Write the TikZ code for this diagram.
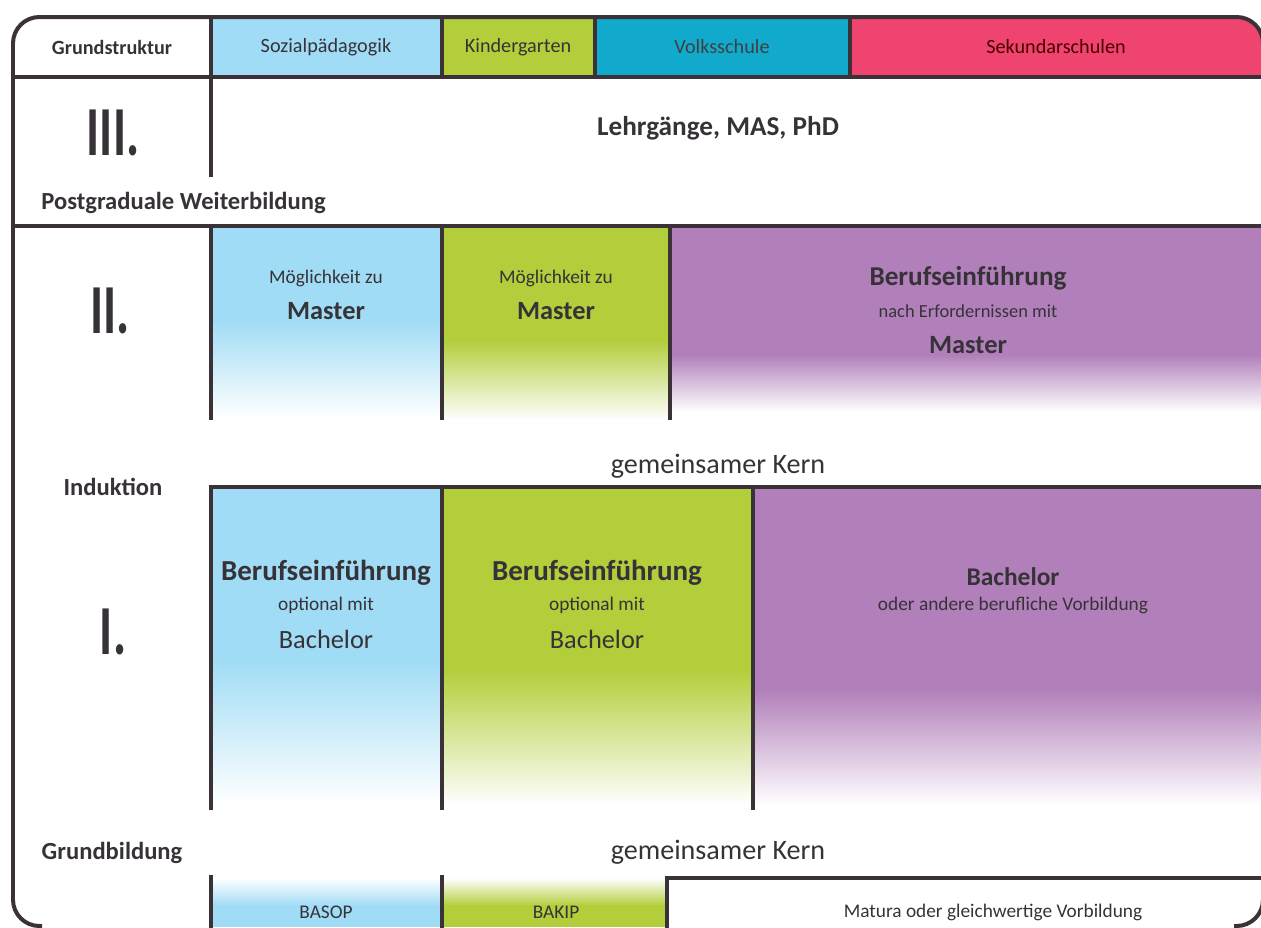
\documentclass[tikz,border=0pt]{standalone}
\usepackage{fontspec}
\setmainfont{Carlito}
\usepackage{graphicx}

\definecolor{sozblue}{RGB}{160,220,245}
\definecolor{kigreen}{RGB}{178,206,59}
\definecolor{vsblue}{RGB}{17,170,204}
\definecolor{sekpink}{RGB}{239,68,112}
\definecolor{lila}{RGB}{177,128,186}
\definecolor{linecol}{RGB}{58,50,55}
\definecolor{txtgray}{RGB}{55,50,55}

\tikzset{
  txt/.style={text=txtgray, inner sep=0pt, font=\fontsize{#1}{#1}\selectfont},
  btxt/.style={text=txtgray, inner sep=0pt, font=\fontsize{#1}{#1}\selectfont\bfseries},
  roman/.style={text=txtgray, inner sep=0pt, font=\fontsize{40}{40}\selectfont\bfseries},
  divline/.style={draw=linecol, line width=0.08cm},
  frameline/.style={draw=linecol, line width=0.08cm, rounded corners=15pt}
}

\begin{document}
\begin{tikzpicture}[x=0.02cm, y=-0.02cm]

	\useasboundingbox (0,0) rectangle (1261,927);

	% coloured fields
	\begin{scope}
		\clip[rounded corners=15pt] (13,17) rectangle (1263,928);
		\fill[sozblue] (211,17) rectangle (442,77);
		\fill[kigreen] (442,17) rectangle (595,77);
		\fill[vsblue] (595,17) rectangle (850,77);
		\fill[sekpink] (850,17) rectangle (1263,77);

		\fill[sozblue] (211,226) rectangle (442,321);
		\shade[top color=sozblue, bottom color=white] (211,320) rectangle (442,418);
		\fill[kigreen] (442,226) rectangle (670,341);
		\shade[top color=kigreen, bottom color=white] (442,340) rectangle (670,420);
		\fill[lila] (670,226) rectangle (1263,356);
		\shade[top color=lila, bottom color=white] (670,355) rectangle (1263,412);

		\fill[sozblue] (211,487) rectangle (442,661);
		\shade[top color=sozblue, bottom color=white] (211,660) rectangle (442,805);
		\fill[kigreen] (442,487) rectangle (753,671);
		\shade[top color=kigreen, bottom color=white] (442,670) rectangle (753,805);
		\fill[lila] (753,487) rectangle (1263,691);
		\shade[top color=lila, bottom color=white] (753,690) rectangle (1263,805);
	\end{scope}
	\shade[top color=white, bottom color=sozblue] (211,878) rectangle (442,906);
	\fill[sozblue] (211,905) rectangle (442,927);
	\shade[top color=white, bottom color=kigreen] (442,878) rectangle (667,906);
	\fill[kigreen] (442,905) rectangle (667,927);

	% rules
	\draw[divline] (13,77) -- (1263,77);
	\foreach \x in {211,442,595,850}
		\draw[divline] (\x,17) -- (\x,77);
	\draw[divline] (211,77) -- (211,177);
	\draw[divline] (13,226) -- (1263,226);
	\foreach \x in {211,442,670}
		\draw[divline] (\x,226) -- (\x,420);
	\draw[divline] (211,810) -- (211,487) -- (1263,487);
	\foreach \x in {442,753}
		\draw[divline] (\x,487) -- (\x,810);
	\foreach \x in {211,442}
		\draw[divline] (\x,875) -- (\x,928);
	\draw[divline] (667,928) -- (667,878) -- (1263,878);
	\draw[frameline] (42,926) -- (13,926) -- (13,17) -- (1263,17) -- (1263,926) -- (1234,926);

	% header
	\node[btxt=11.5] (grund) at (112,47) {Grundstruktur};
	\node[txt=11.5] (sozial) at (326,47) {Sozialpädagogik};
	\node[txt=11.5] (kiga) at (518,47) {Kindergarten};
	\node[txt=11.5, text=black!75] (volks) at (722,47) {Volksschule};
	\node[txt=11.5, text=black!70!red] (sek) at (1056,47) {Sekundarschulen};

	% III
	\node[roman] (romIII) at (113,133) {\scalebox{0.7}[1]{III.}};
	\node[btxt=15.5] (lehrg) at (718,128) {Lehrgänge, MAS, PhD};
	\node[btxt=14, anchor=west] (postgr) at (41,203) {Postgraduale Weiterbildung};

	% II
	\node[roman] (romII) at (110,311) {\scalebox{0.7}[1]{II.}};
	\node[txt=11] (moegA) at (326,278) {Möglichkeit zu};
	\node[btxt=15] (masterA) at (326,311) {Master};
	\node[txt=11] (moegB) at (556,278) {Möglichkeit zu};
	\node[btxt=15] (masterB) at (556,311) {Master};
	\node[btxt=15.5] (berufII) at (968,278) {Berufseinführung};
	\node[txt=10.5] (nach) at (968,311) {nach Erfordernissen mit};
	\node[btxt=15] (masterC) at (968,345) {Master};

	\node[txt=16] (kernA) at (718,466) {gemeinsamer Kern};
	\node[btxt=14] (indukt) at (113,487) {Induktion};

	% I
	\node[roman] (romI) at (113,632) {\scalebox{0.7}[1]{I.}};
	\node[btxt=16.5] (berufA) at (326,573) {Berufseinführung};
	\node[txt=11] (optA) at (326,605) {optional mit};
	\node[txt=15] (bachA) at (326,639) {Bachelor};
	\node[btxt=16.5] (berufB) at (597,573) {Berufseinführung};
	\node[txt=11] (optB) at (597,605) {optional mit};
	\node[txt=15] (bachB) at (597,639) {Bachelor};
	\node[btxt=14.5] (bachC) at (1013,577) {Bachelor};
	\node[txt=11] (andere) at (1013,605) {oder andere berufliche Vorbildung};

	\node[btxt=14] (grundb) at (112,853) {Grundbildung};
	\node[txt=16] (kernB) at (718,852) {gemeinsamer Kern};

	% bottom row
	\node[txt=11] (basop) at (326,912) {BASOP};
	\node[txt=11] (bakip) at (556,912) {BAKIP};
	\node[txt=11] (matura) at (993,912) {Matura oder gleichwertige Vorbildung};

\end{tikzpicture}
\end{document}
